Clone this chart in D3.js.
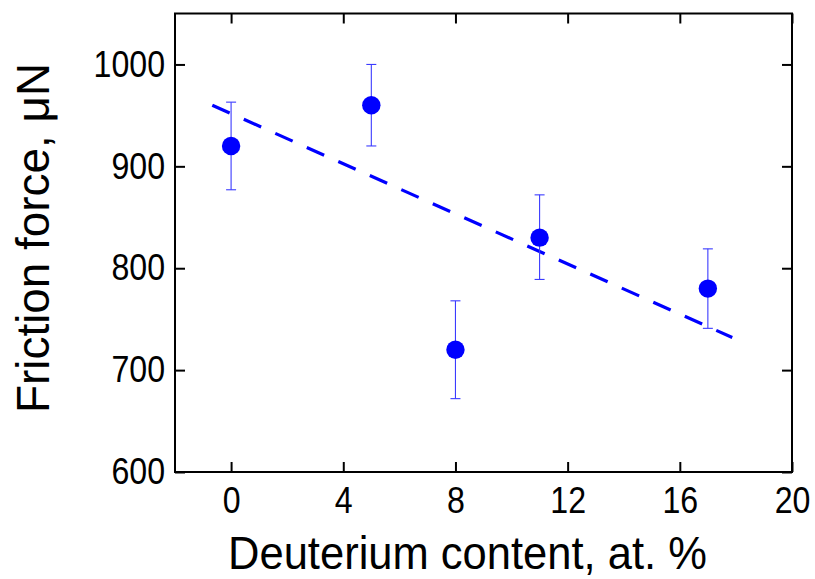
<!DOCTYPE html>
<html>
<head>
<meta charset="utf-8">
<script src="https://cdn.jsdelivr.net/npm/d3@7"></script>
<style>
  html, body { margin: 0; padding: 0; background: #fff; }
  svg { display: block; }
  text { font-family: "Liberation Sans", Arial, Helvetica, sans-serif; fill: #000; }
</style>
</head>
<body>
<svg id="chart" width="815" height="579"></svg>
<script>
// ---- data ----
const xValues = [0, 5, 8, 11, 17];
const yValues = [920, 960, 720, 830, 780];
const errLow  = [877, 920, 672, 789, 741];
const errHigh = [963, 1000, 768, 872, 819];
const fitX = [-0.67, 17.87];
const fitY = [960, 732];
const xTicks = [0, 4, 8, 12, 16, 20];
const yTicks = [600, 700, 800, 900, 1000];
const xTitle = "Deuterium content, at. %";
const yTitle = "Friction force, \u03BCN";

// ---- layout ----
const plotLeft = 175, plotTop = 13.5, plotRight = 792, plotBottom = 472;
const svg = d3.select("#chart");
const x = d3.scaleLinear().domain([-2, 20]).range([plotLeft, plotRight]);
const y = d3.scaleLinear().domain([600, 1050]).range([plotBottom, plotTop]);

const squeeze = 0.88;
function compress(sel) {
  sel.each(function() {
    const w = this.getComputedTextLength();
    d3.select(this).attr("textLength", w * squeeze).attr("lengthAdjust", "spacingAndGlyphs");
  });
}

// axes
const gx = svg.append("g").attr("transform", `translate(0,${plotBottom})`)
  .call(d3.axisBottom(x).tickValues(xTicks).tickSize(-10).tickPadding(15).tickFormat(d3.format("d")));
const gxTop = svg.append("g").attr("transform", `translate(0,${plotTop})`)
  .call(d3.axisTop(x).tickValues(xTicks).tickSize(-10).tickFormat(""));
const gy = svg.append("g").attr("transform", `translate(${plotLeft},0)`)
  .call(d3.axisLeft(y).tickValues(yTicks).tickSize(-10).tickPadding(10).tickFormat(d3.format("d")));
const gyR = svg.append("g").attr("transform", `translate(${plotRight},0)`)
  .call(d3.axisRight(y).tickValues(yTicks).tickSize(-10).tickFormat(""));

[gx, gxTop, gy, gyR].forEach(g => {
  g.select(".domain").remove();
  g.selectAll(".tick line").attr("stroke", "#000").attr("stroke-width", 2);
  g.selectAll(".tick text").attr("font-size", 36.5).attr("font-family", "Liberation Sans, Arial, sans-serif").attr("fill", "#000");
});
compress(gx.selectAll(".tick text"));
compress(gy.selectAll(".tick text"));

// frame
svg.append("rect")
  .attr("x", plotLeft).attr("y", plotTop)
  .attr("width", plotRight - plotLeft).attr("height", plotBottom - plotTop)
  .attr("fill", "none").attr("stroke", "#000").attr("stroke-width", 2);

// fit line
svg.append("line")
  .attr("x1", x(fitX[0])).attr("y1", y(fitY[0]))
  .attr("x2", x(fitX[1])).attr("y2", y(fitY[1]))
  .attr("stroke", "#0000ff").attr("stroke-width", 3.2)
  .attr("stroke-dasharray", "19,15.5");

// error bars
const pts = xValues.map((d, i) => ({x: d, y: yValues[i], lo: errLow[i], hi: errHigh[i]}));
const eb = svg.append("g").attr("stroke", "#3b3bff").attr("stroke-width", 1.1);
eb.selectAll("line.v").data(pts).join("line").attr("class", "v")
  .attr("x1", d => x(d.x)).attr("x2", d => x(d.x))
  .attr("y1", d => y(d.lo)).attr("y2", d => y(d.hi));
eb.selectAll("line.t").data(pts).join("line").attr("class", "t")
  .attr("x1", d => x(d.x) - 5).attr("x2", d => x(d.x) + 5)
  .attr("y1", d => y(d.hi)).attr("y2", d => y(d.hi));
eb.selectAll("line.b").data(pts).join("line").attr("class", "b")
  .attr("x1", d => x(d.x) - 5).attr("x2", d => x(d.x) + 5)
  .attr("y1", d => y(d.lo)).attr("y2", d => y(d.lo));

// points
svg.append("g").selectAll("circle").data(pts).join("circle")
  .attr("cx", d => x(d.x)).attr("cy", d => y(d.y)).attr("r", 9.2)
  .attr("fill", "#0000ff");

// titles
svg.append("text")
  .attr("x", 228).attr("y", 569)
  .attr("font-size", 47)
  .attr("textLength", 479).attr("lengthAdjust", "spacingAndGlyphs")
  .text(xTitle);

svg.append("text")
  .attr("transform", "translate(49,413) rotate(-90)")
  .attr("x", 0).attr("y", 0)
  .attr("font-size", 47)
  .attr("textLength", 350).attr("lengthAdjust", "spacingAndGlyphs")
  .text(yTitle);
</script>
</body>
</html>
